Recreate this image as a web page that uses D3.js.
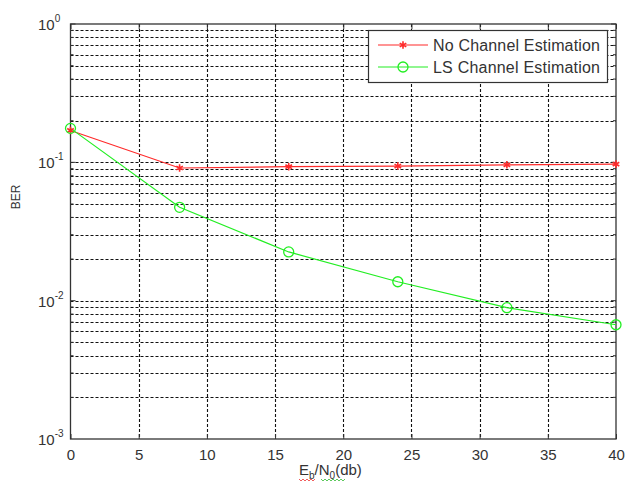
<!DOCTYPE html>
<html>
<head>
<meta charset="utf-8">
<script src="https://cdn.jsdelivr.net/npm/d3@7"></script>
<style>
  body { margin: 0; background: #fff; }
  text { font-family: "Liberation Sans", Arial, sans-serif; fill: #333; }
</style>
</head>
<body>
<svg width="625" height="483"></svg>
<script>
'use strict'

const WIDTH = 625;
const HEIGHT = 483;

// data
const snr = [0, 8, 16, 24, 32, 40];
const berNoEst = [0.170, 0.091, 0.093, 0.094, 0.096, 0.097];
const berLS = [0.176, 0.0473, 0.0225, 0.0137, 0.0089, 0.0067];
const xTicks = [0, 5, 10, 15, 20, 25, 30, 35, 40];
const yDecades = [-3, -2, -1, 0];
const seriesNames = ['No Channel Estimation', 'LS Channel Estimation'];

const PL = 70.5, PR = 616, PT = 24, PB = 439;

const svg = d3.select('svg');

const xScale = d3.scaleLinear().domain([0, 40]).range([PL, PR]);
const yScale = d3.scaleLog().domain([1e-3, 1]).range([PB, PT]);

// grid
let minorVals = [];
yDecades.slice(0, -1).forEach(d => {
  for (let m = 1; m < 10; m++) minorVals.push(m * Math.pow(10, d));
});
minorVals = minorVals.filter(v => v > 1e-3 * 1.01);

svg.append('g').selectAll('line').data(minorVals).enter().append('line')
  .attr('x1', PL).attr('x2', PR)
  .attr('y1', d => Math.round(yScale(d)) + 0.5)
  .attr('y2', d => Math.round(yScale(d)) + 0.5)
  .attr('stroke', '#111').attr('stroke-width', 1.1).attr('stroke-dasharray', '3,2');

svg.append('g').selectAll('line').data(xTicks.slice(1, -1)).enter().append('line')
  .attr('x1', d => Math.round(xScale(d)) + 0.5)
  .attr('x2', d => Math.round(xScale(d)) + 0.5)
  .attr('y1', PT).attr('y2', PB)
  .attr('stroke', '#111').attr('stroke-width', 1.1).attr('stroke-dasharray', '3,2');

// axes with inside ticks
const bottomAxis = d3.axisBottom(xScale).tickValues(xTicks).tickSizeInner(-5).tickSizeOuter(0).tickPadding(10);
const gx = svg.append('g').attr('transform', 'translate(0,' + PB + ')').call(bottomAxis);
gx.select('.domain').remove();
gx.selectAll('line').attr('stroke', '#333');
gx.selectAll('text').attr('font-size', 15).style('font-family', '"Liberation Sans", Arial, sans-serif').attr('fill', '#333');

const topAxis = d3.axisTop(xScale).tickValues(xTicks).tickSizeInner(-5).tickSizeOuter(0).tickFormat('');
const gxt = svg.append('g').attr('transform', 'translate(0,' + PT + ')').call(topAxis);
gxt.select('.domain').remove();
gxt.selectAll('line').attr('stroke', '#333');

const allY = minorVals.concat([1]);
[[PL, 1], [PR, -1]].forEach(([x0, dir]) => {
  svg.append('g').selectAll('line').data(allY).enter().append('line')
    .attr('x1', x0).attr('x2', d => x0 + dir * (Math.abs(Math.log10(d) % 1) < 1e-6 ? 5 : 3))
    .attr('y1', d => yScale(d)).attr('y2', d => yScale(d))
    .attr('stroke', '#333');
});

// frame
svg.append('rect')
  .attr('x', PL).attr('y', PT)
  .attr('width', PR - PL).attr('height', PB - PT)
  .attr('fill', 'none').attr('stroke', '#333').attr('stroke-width', 1.3);

// y tick labels 10^n
const yLab = svg.append('g').selectAll('text').data(yDecades).enter().append('text')
  .attr('x', 55).attr('y', d => yScale(Math.pow(10, d)) + 6)
  .attr('font-size', 15);
yLab.append('tspan').attr('x', 38).text('10');
yLab.append('tspan').attr('dy', -8).attr('font-size', 10).text(d => d);

// series
const lineGen = d3.line().x(d => xScale(d[0])).y(d => yScale(d[1]));
const redData = snr.map((x, i) => [x, berNoEst[i]]);
const greenData = snr.map((x, i) => [x, berLS[i]]);
const RED = '#ff2a2a', GREEN = '#22ee22';

svg.append('path').datum(redData).attr('d', lineGen)
  .attr('fill', 'none').attr('stroke', RED).attr('stroke-width', 1.2);
svg.append('path').datum(greenData).attr('d', lineGen)
  .attr('fill', 'none').attr('stroke', GREEN).attr('stroke-width', 1.2);

const star = d3.symbol().type(d3.symbolAsterisk).size(40);
svg.append('g').selectAll('path').data(redData).enter().append('path')
  .attr('d', star)
  .attr('transform', d => 'translate(' + xScale(d[0]) + ',' + yScale(d[1]) + ')')
  .attr('fill', 'none').attr('stroke', RED).attr('stroke-width', 1.6);

svg.append('g').selectAll('circle').data(greenData).enter().append('circle')
  .attr('cx', d => xScale(d[0])).attr('cy', d => yScale(d[1])).attr('r', 5)
  .attr('fill', 'none').attr('stroke', GREEN).attr('stroke-width', 1.3);

// legend
const legend = svg.append('g');
legend.append('rect').attr('x', 368.5).attr('y', 30.5).attr('width', 239).attr('height', 52)
  .attr('fill', '#fff').attr('stroke', '#333').attr('stroke-width', 1.2);
[RED, GREEN].forEach((c, i) => {
  const y = 45 + i * 22;
  legend.append('line').attr('x1', 378).attr('x2', 428).attr('y1', y).attr('y2', y)
    .attr('stroke', c).attr('stroke-width', 1.2);
  if (i === 0) {
    legend.append('path').attr('d', star).attr('transform', 'translate(403,' + y + ')')
      .attr('fill', 'none').attr('stroke', c).attr('stroke-width', 1.6);
  } else {
    legend.append('circle').attr('cx', 403).attr('cy', y).attr('r', 5)
      .attr('fill', 'none').attr('stroke', c).attr('stroke-width', 1.3);
  }
  legend.append('text').attr('x', 433).attr('y', y + 6)
    .attr('font-size', 16).attr('textLength', 167).text(seriesNames[i]);
});

// axis titles
svg.append('text').attr('transform', 'translate(20,197) rotate(-90)')
  .attr('text-anchor', 'middle').attr('font-size', 12).text('BER');

const xl = svg.append('text').attr('x', 299).attr('y', 475).attr('font-size', 15);
xl.append('tspan').text('E');
xl.append('tspan').attr('dy', 4).attr('font-size', 10).text('b');
xl.append('tspan').attr('dy', -4).text('/N');
xl.append('tspan').attr('dy', 4).attr('font-size', 10).text('0');
xl.append('tspan').attr('dy', -4).text('(db)');

// spell-check squiggles under the label
function squiggle(x0, x1, y) {
  let d = 'M' + x0 + ',' + y;
  for (let x = x0 + 2, k = 0; x <= x1; x += 2, k++) d += 'L' + x + ',' + (y + (k % 2 ? 0 : 2));
  return d;
}
svg.append('path').attr('d', squiggle(299, 315, 479)).attr('fill', 'none').attr('stroke', '#e33').attr('stroke-width', 0.8);
svg.append('path').attr('d', squiggle(321, 345, 479)).attr('fill', 'none').attr('stroke', '#3b3').attr('stroke-width', 0.8);
</script>
</body>
</html>
